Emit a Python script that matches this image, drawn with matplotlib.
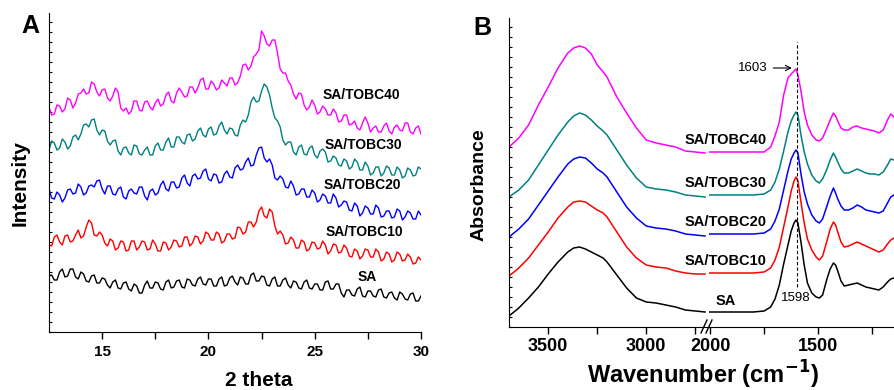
import numpy as np
import matplotlib
matplotlib.use("Agg")
import matplotlib.pyplot as plt
from matplotlib.lines import Line2D
from matplotlib.ticker import MultipleLocator, FixedLocator, NullFormatter

plt.rcParams['font.family'] = ['Liberation Sans', 'DejaVu Sans']

# ---- panel A : XRD (heights in a.u.) ----
theta = np.linspace(12.5, 30.0, 141)

xrd_sa = [56, 57, 52, 52, 60, 63, 55, 56, 63, 63,
          55, 53, 60, 58, 51, 50, 56, 57, 49, 49,
          54, 53, 47, 44, 50, 52, 44, 43, 49, 50,
          43, 41, 48, 46, 39, 39, 47, 51, 44, 44,
          50, 49, 43, 42, 50, 52, 44, 45, 51, 52,
          45, 44, 53, 52, 47, 46, 53, 55, 48, 47,
          53, 53, 46, 46, 53, 55, 46, 47, 54, 56,
          50, 47, 55, 54, 48, 48, 57, 59, 51, 51,
          56, 55, 47, 46, 53, 55, 46, 46, 52, 54,
          47, 44, 51, 50, 44, 43, 50, 52, 44, 43,
          48, 48, 42, 42, 50, 51, 43, 43, 48, 48,
          39, 35, 42, 42, 37, 36, 43, 45, 36, 35,
          41, 41, 36, 35, 42, 43, 35, 34, 39, 40,
          34, 32, 40, 38, 33, 32, 38, 39, 31, 31, 36]
xrd_10 = [87, 86, 95, 97, 90, 87, 96, 97, 90, 91,
          97, 102, 94, 96, 105, 112, 109, 97, 96, 100,
          97, 89, 86, 93, 91, 82, 84, 91, 90, 81,
          82, 91, 91, 82, 85, 91, 90, 82, 83, 92,
          88, 81, 81, 90, 89, 82, 85, 92, 91, 85,
          86, 95, 95, 86, 89, 96, 95, 88, 91, 100,
          98, 92, 92, 100, 98, 89, 91, 98, 98, 93,
          94, 105, 104, 98, 100, 110, 110, 105, 110, 121,
          125, 116, 114, 123, 120, 106, 98, 101, 97, 88,
          89, 95, 92, 84, 84, 92, 90, 81, 83, 90,
          89, 83, 84, 91, 87, 78, 81, 88, 87, 79,
          80, 87, 84, 76, 75, 83, 81, 73, 76, 83,
          82, 75, 75, 83, 80, 71, 73, 80, 78, 70,
          72, 80, 78, 71, 72, 78, 75, 68, 69, 75, 72]
xrd_20 = [143, 134, 133, 140, 137, 130, 134, 142, 143, 138,
          139, 148, 145, 137, 139, 146, 147, 145, 151, 152,
          143, 138, 146, 146, 138, 137, 143, 145, 135, 133,
          141, 143, 139, 138, 145, 145, 136, 132, 141, 143,
          137, 139, 147, 151, 143, 141, 150, 150, 144, 145,
          154, 157, 149, 146, 156, 158, 153, 154, 161, 163,
          153, 151, 158, 157, 149, 150, 158, 161, 155, 154,
          164, 167, 162, 163, 170, 174, 166, 167, 177, 184,
          185, 174, 170, 173, 167, 154, 152, 156, 153, 145,
          144, 151, 146, 137, 138, 143, 143, 135, 135, 142,
          139, 130, 132, 138, 136, 129, 129, 138, 134, 125,
          127, 131, 130, 122, 121, 129, 126, 116, 119, 126,
          124, 118, 118, 127, 124, 115, 116, 121, 121, 114,
          115, 123, 121, 112, 115, 121, 119, 113, 113, 121, 117]
xrd_30 = [182, 191, 189, 182, 184, 193, 190, 183, 186, 195,
          197, 192, 198, 207, 208, 205, 212, 213, 202, 197,
          202, 201, 191, 187, 191, 192, 181, 177, 184, 185,
          179, 177, 187, 186, 178, 177, 182, 185, 177, 177,
          186, 189, 182, 182, 190, 194, 185, 185, 195, 195,
          190, 188, 197, 198, 191, 193, 201, 204, 197, 195,
          203, 205, 197, 198, 206, 210, 202, 198, 204, 203,
          197, 196, 207, 212, 210, 217, 230, 235, 230, 231,
          241, 248, 245, 237, 224, 214, 211, 205, 192, 187,
          190, 190, 180, 177, 185, 187, 178, 177, 184, 186,
          177, 174, 181, 183, 180, 170, 171, 176, 174, 167,
          166, 173, 171, 163, 165, 173, 170, 162, 162, 170,
          166, 157, 159, 165, 165, 156, 159, 166, 164, 157,
          157, 165, 162, 154, 156, 164, 162, 156, 157, 165, 163]
xrd_40 = [225, 217, 218, 227, 226, 220, 223, 234, 232, 224,
          229, 238, 239, 243, 238, 239, 250, 248, 240, 236,
          242, 243, 234, 231, 236, 244, 240, 224, 221, 224,
          218, 221, 231, 231, 222, 221, 230, 231, 225, 222,
          229, 233, 226, 228, 237, 240, 231, 229, 239, 244,
          240, 235, 236, 245, 245, 239, 244, 252, 254, 243,
          243, 251, 248, 242, 244, 252, 249, 246, 254, 254,
          247, 249, 256, 267, 268, 262, 266, 275, 278, 282,
          301, 296, 288, 286, 292, 292, 279, 263, 259, 259,
          251, 247, 238, 233, 239, 238, 227, 222, 225, 232,
          227, 218, 220, 226, 223, 217, 217, 223, 219, 210,
          211, 217, 217, 207, 208, 211, 204, 202, 209, 215,
          209, 200, 204, 206, 200, 200, 206, 209, 201, 198,
          205, 207, 202, 201, 209, 209, 200, 198, 204, 206, 198]

# ---- panel B : FTIR (absorbance in a.u.) ----
wn_left = [3700, 3650, 3600, 3550, 3500, 3450, 3400, 3370, 3340, 3310, 3280, 3250,
           3220, 3200, 3150, 3100, 3050, 3000, 2950, 2900, 2850, 2800, 2750, 2700]
wn_right = [2005, 1900, 1800, 1750, 1720, 1700, 1680, 1660, 1640, 1625, 1612, 1603, 1594,
            1580, 1565, 1550, 1530, 1510, 1495, 1480, 1460, 1445, 1430, 1420, 1410, 1395,
            1380, 1360, 1340, 1320, 1300, 1280, 1260, 1240, 1220, 1200, 1180, 1165, 1150]

ir_sa_l = [11, 19, 29, 40, 53, 65, 75, 79, 80, 78, 75, 72, 69, 65, 52, 39, 29, 25, 24, 22, 20, 17, 16, 15]
ir_10_l = [51, 59, 69, 82, 95, 109, 120, 125, 126, 125, 121, 117, 114, 110, 95, 80, 69, 62, 60, 59, 56, 54, 53, 53]
ir_20_l = [90, 98, 108, 122, 136, 150, 163, 168, 170, 169, 164, 158, 154, 150, 135, 120, 109, 101, 99, 98, 96, 93, 92, 91]
ir_30_l = [130, 137, 147, 162, 177, 192, 205, 211, 214, 212, 207, 201, 196, 192, 177, 162, 149, 140, 138, 137, 135, 132, 131, 130]
ir_40_l = [180, 189, 202, 222, 240, 259, 274, 279, 281, 279, 273, 262, 255, 250, 230, 214, 199, 187, 184, 182, 180, 176, 175, 174]

ir_sa_r = [15, 15, 15, 16, 20, 28, 42, 63, 82, 96, 104, 107, 104, 85, 62, 44, 34, 30, 29, 32,
           48, 58, 64, 62, 56, 46, 41, 42, 43, 44, 42, 40, 39, 38, 37, 40, 45, 48, 49]
ir_10_r = [54, 54, 54, 55, 59, 67, 80, 100, 120, 136, 146, 150, 146, 125, 104, 88, 77, 70, 67, 71,
           86, 98, 105, 102, 95, 85, 80, 81, 83, 85, 83, 81, 79, 77, 75, 77, 83, 87, 89]
ir_20_r = [93, 93, 93, 94, 98, 106, 118, 137, 156, 168, 174, 177, 174, 153, 135, 123, 112, 106, 104, 108,
           121, 131, 139, 134, 128, 121, 117, 117, 119, 122, 120, 117, 116, 115, 114, 116, 124, 130, 132]
ir_30_r = [132, 132, 132, 133, 137, 145, 158, 176, 195, 206, 212, 215, 212, 192, 175, 163, 152, 146, 144, 148,
           158, 167, 174, 170, 165, 158, 154, 154, 156, 158, 156, 154, 153, 153, 152, 155, 162, 168, 167]
ir_40_r = [175, 175, 175, 175, 180, 191, 205, 232, 249, 253, 256, 258, 252, 236, 215, 202, 192, 187, 186, 189,
           199, 207, 214, 211, 206, 199, 197, 197, 200, 201, 199, 198, 197, 196, 194, 197, 207, 213, 210]

names = ["SA", "SA/TOBC10", "SA/TOBC20", "SA/TOBC30", "SA/TOBC40"]
colors = ["black", "#ff0000", "#0000ff", "#008080", "#ff00ff"]

W, H = 894, 390


def rect(x0, y0, x1, y1):
    # pixel box -> figure fraction [left, bottom, width, height]
    return [x0 / W, 1 - y1 / H, (x1 - x0) / W, (y1 - y0) / H]


def fpos(x, y):
    return x / W, 1 - y / H


fig = plt.figure(figsize=(8.94, 3.9), dpi=100)

# ---------------- panel A ----------------
axA = fig.add_axes(rect(49, 13, 421, 332))
for y, c in zip([xrd_sa, xrd_10, xrd_20, xrd_30, xrd_40], colors):
    axA.plot(theta, y, color=c, lw=1.0)
axA.set_xlim(12.5, 30)
axA.set_ylim(0, 319)
axA.spines['top'].set_visible(False)
axA.spines['right'].set_visible(False)
axA.set_xticks([15, 20, 25, 30])
axA.xaxis.set_minor_locator(FixedLocator([17.5, 22.5, 27.5]))
axA.tick_params(axis='x', which='both', direction='out', length=5, width=1,
                labelsize=11, pad=4)
axA.yaxis.set_major_locator(MultipleLocator(10))
axA.yaxis.set_major_formatter(NullFormatter())
axA.tick_params(axis='y', direction='in', length=2, width=0.8)
for lab in axA.get_xticklabels():
    lab.set_fontweight('bold')

lab_pos_A = [(27.45, 55, 'center'), (25.5, 100, 'left'), (25.4, 147, 'left'),
             (25.45, 187, 'left'), (25.35, 237, 'left')]
for n, (x, y, ha) in zip(names, lab_pos_A):
    axA.text(x, y, n, ha=ha, va='center', fontsize=10, fontweight='bold')

fig.text(*fpos(30, 26), 'A', fontsize=18, fontweight='bold', ha='center', va='center')
fig.text(*fpos(20, 183), 'Intensity', fontsize=15, fontweight='bold', rotation=90,
         ha='center', va='center')
fig.text(*fpos(259, 380), '2 theta', fontsize=15, fontweight='bold', ha='center', va='center')

# ---------------- panel B (broken x axis) ----------------
axL = fig.add_axes(rect(509, 18, 707, 327))
axR = fig.add_axes(rect(709, 18, 894, 327))

for yl, yr, c in zip([ir_sa_l, ir_10_l, ir_20_l, ir_30_l, ir_40_l],
                     [ir_sa_r, ir_10_r, ir_20_r, ir_30_r, ir_40_r], colors):
    axL.plot(wn_left, yl, color=c, lw=1.1)
    axR.plot(wn_right, yr, color=c, lw=1.1)

axL.set_xlim(3700, 2690)
axR.set_xlim(2005, 1150)
for ax in (axL, axR):
    ax.set_ylim(0, 309)
    ax.spines['top'].set_visible(False)
    ax.spines['right'].set_visible(False)
    ax.tick_params(axis='x', which='both', direction='out', length=5, width=1,
                   labelsize=13, pad=3)
axR.spines['left'].set_visible(False)
axR.set_yticks([])
axL.yaxis.set_major_locator(MultipleLocator(10))
axL.yaxis.set_major_formatter(NullFormatter())
axL.tick_params(axis='y', direction='in', length=2, width=0.8)

axL.set_xticks([3500, 3000])
axL.xaxis.set_minor_locator(FixedLocator([3250, 2750]))
axR.set_xticks([2000, 1500])
axR.xaxis.set_minor_locator(FixedLocator([1750, 1250]))
for ax in (axL, axR):
    for lab in ax.get_xticklabels():
        lab.set_fontweight('bold')

# break marks on the x axis
for x0 in (701, 706):
    fig.add_artist(Line2D([x0 / W, (x0 + 6) / W], [1 - 333 / H, 1 - 320 / H],
                          color='black', lw=1, transform=fig.transFigure))

lab_pos_B = [26, 66, 105, 144, 187]
for n, y in zip(names, lab_pos_B):
    axR.text(1928, y, n, ha='center', va='center', fontsize=10.5, fontweight='bold')

axR.vlines(1600, 40, 285, colors='black', linestyles=(0, (3, 2)), lw=0.8)
axR.annotate('1603', xy=(1622, 259), xytext=(1802, 259), ha='center', va='center',
             fontsize=9.5, arrowprops=dict(arrowstyle='->', lw=0.8, color='black',
                                           shrinkA=2, shrinkB=0))
axR.text(1602, 29, '1598', ha='center', va='center', fontsize=9.5)

fig.text(*fpos(482, 28), 'B', fontsize=18, fontweight='bold', ha='center', va='center')
fig.text(*fpos(479, 185), 'Absorbance', fontsize=14, fontweight='bold', rotation=90,
         ha='center', va='center')
fig.text(*fpos(703, 375), r'Wavenumber (cm$^{\mathbf{-1}}$)', fontsize=17,
         fontweight='bold', ha='center', va='center')

fig.savefig('out.png', dpi=100)
